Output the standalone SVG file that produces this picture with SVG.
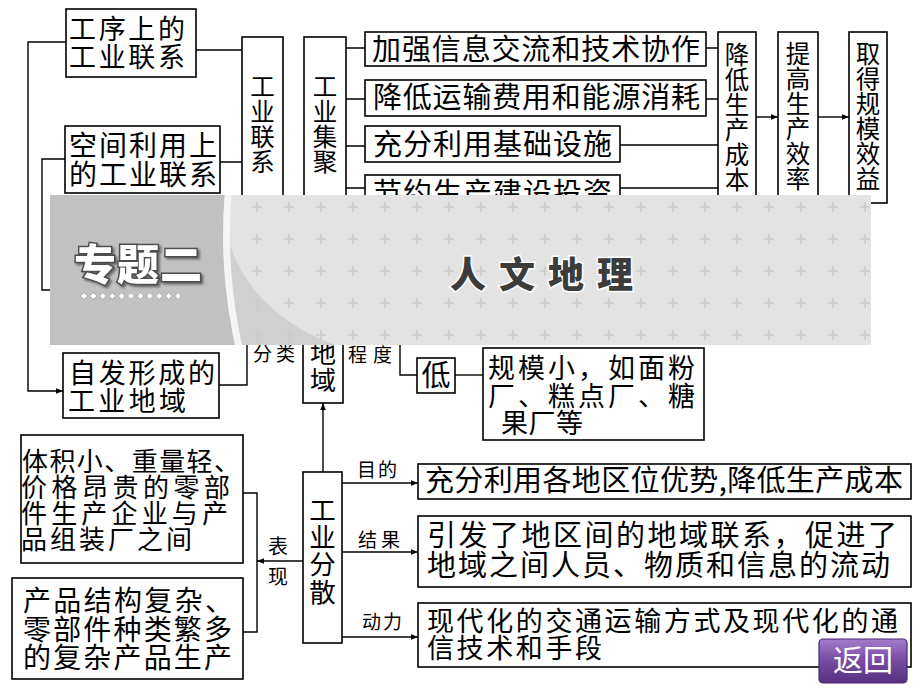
<svg xmlns="http://www.w3.org/2000/svg" width="920" height="690" viewBox="0 0 920 690">
<defs>
<style>
.box{fill:#fff;stroke:#000;stroke-width:1.6}
.ln{fill:none;stroke:#000;stroke-width:1.4}
.t{font-family:"Noto Sans CJK SC","Noto Sans CJK JP",sans-serif;font-size:29px;fill:#000}
.tv{font-size:24.5px;text-anchor:middle}
.lb{font-size:19px}
</style>
<marker id="ah" viewBox="0 0 10 10" refX="10" refY="5" markerWidth="9" markerHeight="7" markerUnits="userSpaceOnUse" orient="auto"><path d="M0,1 L10,5 L0,9 z" fill="#000"/></marker>
<pattern id="plus" x="-15" y="-1" width="32" height="32" patternUnits="userSpaceOnUse"><path d="M11,16 H21 M16,11 V21" stroke="#cbcbcb" stroke-width="1.6"/></pattern>
<clipPath id="bclip"><rect x="50" y="195" width="821" height="150"/></clipPath>
<clipPath id="lclip"><circle cx="737" cy="235" r="507"/></clipPath>
<linearGradient id="btn" x1="0" y1="0" x2="0" y2="1"><stop offset="0" stop-color="#a57ccc"/><stop offset="0.45" stop-color="#7a4ea6"/><stop offset="1" stop-color="#56307f"/></linearGradient>
<filter id="ds" x="-10%" y="-10%" width="130%" height="140%"><feDropShadow dx="2" dy="2" stdDeviation="0.8" flood-color="#555" flood-opacity="0.8"/></filter>
</defs>
<rect width="920" height="690" fill="#fff"/>

<g id="connectors">
<path class="ln" d="M66,42 H28 V391 H63" marker-end="url(#ah)"/>
<path class="ln" d="M65,159 H42 V290 H60"/>
<path class="ln" d="M196,50 H242 M220,162 H242"/>
<path class="ln" d="M346,48 H365 M346,99 H365 M346,146 H365 M346,188 H365"/>
<path class="ln" d="M706,48 H718 M706,99 H718 M620,145 H718 M620,188 H718"/>
<path class="ln" d="M756,117 H778" marker-end="url(#ah)"/>
<path class="ln" d="M818,117 H849" marker-end="url(#ah)"/>
<path class="ln" d="M219,385 H247 V300"/>
<path class="ln" d="M400,300 V375 H417"/>
<path class="ln" d="M455,375 H483"/>
<path class="ln" d="M323,472 V403" marker-end="url(#ah)"/>
<path class="ln" d="M342,483 H418" marker-end="url(#ah)"/>
<path class="ln" d="M342,552 H418" marker-end="url(#ah)"/>
<path class="ln" d="M342,637 H418" marker-end="url(#ah)"/>
<path class="ln" d="M303,561 H257" marker-end="url(#ah)"/>
<path class="ln" d="M243,493 H257 V632 H243"/>
<text class="t lb" x="253" y="361" textLength="42">分类</text>
<text class="t lb" x="348" y="362" textLength="44">程度</text>
<text class="t lb" x="357" y="477" textLength="40">目的</text>
<text class="t lb" x="358" y="547" textLength="42">结果</text>
<text class="t lb" x="362" y="629" textLength="40">动力</text>
<text class="t" style="font-size:20px" x="268" y="554">表</text>
<text class="t" style="font-size:20px" x="268" y="584">现</text>
</g>

<g id="n-gongxu">
<rect class="box" x="66" y="9" width="130" height="68"/>
<text class="t" style="font-size:27px" x="69" y="39" textLength="116">工序上的</text>
<text class="t" style="font-size:27px" x="69" y="67" textLength="116">工业联系</text>
</g>
<g id="n-kongjian">
<rect class="box" x="65" y="126" width="155" height="67"/>
<text class="t" style="font-size:28px" x="69" y="156" textLength="148">空间利用上</text>
<text class="t" style="font-size:28px" x="69" y="185" textLength="148">的工业联系</text>
</g>
<g id="n-gylx">
<rect class="box" x="242" y="37" width="41" height="230"/>
<text class="t tv" x="262.5" y="96">工</text>
<text class="t tv" x="262.5" y="121">业</text>
<text class="t tv" x="262.5" y="146">联</text>
<text class="t tv" x="262.5" y="171">系</text>
</g>
<g id="n-gyjj">
<rect class="box" x="304" y="37" width="42" height="230"/>
<text class="t tv" x="325" y="96">工</text>
<text class="t tv" x="325" y="121">业</text>
<text class="t tv" x="325" y="146">集</text>
<text class="t tv" x="325" y="171">聚</text>
</g>
<g id="n-xinxi">
<rect class="box" x="365" y="32" width="341" height="34"/>
<text class="t" x="372" y="60" textLength="328">加强信息交流和技术协作</text>
</g>
<g id="n-yunshu">
<rect class="box" x="365" y="80" width="341" height="36"/>
<text class="t" x="373" y="108" textLength="327">降低运输费用和能源消耗</text>
</g>
<g id="n-jichu">
<rect class="box" x="365" y="126" width="255" height="36"/>
<text class="t" x="373" y="155" textLength="239">充分利用基础设施</text>
</g>
<g id="n-jieyue">
<rect class="box" x="365" y="175" width="255" height="36"/>
<text class="t" x="373" y="204" textLength="239">节约生产建设投资</text>
</g>
<g id="n-chengben">
<rect class="box" x="718" y="32" width="38" height="200"/>
<text class="t tv" x="737" y="64">降</text>
<text class="t tv" x="737" y="89">低</text>
<text class="t tv" x="737" y="114">生</text>
<text class="t tv" x="737" y="139">产</text>
<text class="t tv" x="737" y="164">成</text>
<text class="t tv" x="737" y="189">本</text>
</g>
<g id="n-xiaolv">
<rect class="box" x="778" y="32" width="40" height="200"/>
<text class="t tv" x="798" y="63">提</text>
<text class="t tv" x="798" y="88">高</text>
<text class="t tv" x="798" y="113">生</text>
<text class="t tv" x="798" y="138">产</text>
<text class="t tv" x="798" y="163">效</text>
<text class="t tv" x="798" y="188">率</text>
</g>
<g id="n-xiaoyi">
<rect class="box" x="849" y="32" width="38" height="171"/>
<text class="t tv" x="868" y="63">取</text>
<text class="t tv" x="868" y="88">得</text>
<text class="t tv" x="868" y="113">规</text>
<text class="t tv" x="868" y="138">模</text>
<text class="t tv" x="868" y="163">效</text>
<text class="t tv" x="868" y="188">益</text>
</g>
<g id="n-zifa">
<rect class="box" x="63" y="353" width="156" height="65"/>
<text class="t" style="font-size:27px" x="69" y="383" textLength="146">自发形成的</text>
<text class="t" style="font-size:27px" x="68" y="411" textLength="118">工业地域</text>
</g>
<g id="n-gydy">
<rect class="box" x="303" y="280" width="40" height="123"/>
<text class="t" style="font-size:26px" x="323" y="309" text-anchor="middle">工</text>
<text class="t" style="font-size:26px" x="323" y="336" text-anchor="middle">业</text>
<text class="t" style="font-size:26px" x="323" y="363" text-anchor="middle">地</text>
<text class="t" style="font-size:26px" x="323" y="390" text-anchor="middle">域</text>
</g>
<g id="n-di">
<rect class="box" x="417" y="358" width="38" height="35"/>
<text class="t" x="436" y="386" text-anchor="middle">低</text>
</g>
<g id="n-guimo">
<rect class="box" x="483" y="348" width="221" height="92"/>
<text class="t" style="font-size:27px" x="488" y="378" textLength="207">规模小，如面粉</text>
<text class="t" style="font-size:27px" x="488" y="406" textLength="207">厂、糕点厂、糖</text>
<text class="t" style="font-size:27px" x="501" y="433" textLength="82">果厂等</text>
</g>
<g id="n-gyfs">
<rect class="box" x="303" y="472" width="39" height="171"/>
<text class="t" style="font-size:26.5px" x="322.5" y="520" text-anchor="middle">工</text>
<text class="t" style="font-size:26.5px" x="322.5" y="547" text-anchor="middle">业</text>
<text class="t" style="font-size:26.5px" x="322.5" y="574" text-anchor="middle">分</text>
<text class="t" style="font-size:26.5px" x="322.5" y="602" text-anchor="middle">散</text>
</g>
<g id="n-tiji">
<rect class="box" x="21" y="435" width="222" height="128"/>
<text class="t" style="font-size:26px" x="22" y="471" textLength="218">体积小、重量轻、</text>
<text class="t" style="font-size:26px" x="21" y="497" textLength="209">价格昂贵的零部</text>
<text class="t" style="font-size:26px" x="21" y="523" textLength="207">件生产企业与产</text>
<text class="t" style="font-size:26px" x="21" y="549" textLength="171">品组装厂之间</text>
</g>
<g id="n-chanpin">
<rect class="box" x="12" y="578" width="231" height="101"/>
<text class="t" style="font-size:28px" x="23" y="611" textLength="210">产品结构复杂、</text>
<text class="t" style="font-size:28px" x="23" y="640" textLength="209">零部件种类繁多</text>
<text class="t" style="font-size:28px" x="23" y="668" textLength="209">的复杂产品生产</text>
</g>
<g id="n-mudi">
<rect class="box" x="418" y="464" width="493" height="35"/>
<text class="t" x="425" y="491" textLength="478">充分利用各地区位优势,降低生产成本</text>
</g>
<g id="n-jieguo">
<rect class="box" x="418" y="516" width="493" height="71"/>
<text class="t" x="427" y="546" textLength="470">引发了地区间的地域联系，促进了</text>
<text class="t" x="427" y="576" textLength="463">地域之间人员、物质和信息的流动</text>
</g>
<g id="n-dongli">
<rect class="box" x="418" y="603" width="493" height="64"/>
<text class="t" style="font-size:27px" x="427" y="631" textLength="471">现代化的交通运输方式及现代化的通</text>
<text class="t" style="font-size:27px" x="427" y="658" textLength="175">信技术和手段</text>
</g>

<g id="banner">
<g clip-path="url(#bclip)">
<rect x="50" y="195" width="821" height="150" fill="#c1c1c1"/>
<circle cx="735" cy="235" r="512" fill="#f5f5f5"/>
<g clip-path="url(#lclip)">
<rect x="50" y="195" width="821" height="150" fill="#e4e3e4"/>
<path d="M224,225 Q245,318 350,350 L200,350 Z" fill="#d0d0d0"/>
<rect x="50" y="195" width="821" height="150" fill="url(#plus)"/>
</g>
</g>
<text x="74" y="280" textLength="128" filter="url(#ds)" style="font-family:'Noto Sans CJK SC',sans-serif;font-size:42px;font-weight:900;fill:#fff;stroke:#4e4e4e;stroke-width:3;paint-order:stroke">专题二</text>
<g fill="#fff" stroke="#8a8a8a" stroke-width="0.6">
<path d="M84,292.5 L87.5,296 L84,299.5 L80.5,296 Z"/>
<path d="M93.4,292.5 L96.9,296 L93.4,299.5 L89.9,296 Z"/>
<path d="M102.8,292.5 L106.3,296 L102.8,299.5 L99.3,296 Z"/>
<path d="M112.2,292.5 L115.7,296 L112.2,299.5 L108.7,296 Z"/>
<path d="M121.6,292.5 L125.1,296 L121.6,299.5 L118.1,296 Z"/>
<path d="M131,292.5 L134.5,296 L131,299.5 L127.5,296 Z"/>
<path d="M140.4,292.5 L143.9,296 L140.4,299.5 L136.9,296 Z"/>
<path d="M149.8,292.5 L153.3,296 L149.8,299.5 L146.3,296 Z"/>
<path d="M159.2,292.5 L162.7,296 L159.2,299.5 L155.7,296 Z"/>
<path d="M168.6,292.5 L172.1,296 L168.6,299.5 L165.1,296 Z"/>
<path d="M178,292.5 L181.5,296 L178,299.5 L174.5,296 Z"/>
</g>
<g style="font-family:'Noto Sans CJK SC',sans-serif;font-size:36px;font-weight:900;fill:#3c3c3c;stroke:#fff;stroke-width:3;paint-order:stroke">
<text x="450" y="288">人</text>
<text x="499" y="288">文</text>
<text x="548" y="288">地</text>
<text x="597" y="288">理</text>
</g>
</g>

<g id="btn-fanhui">
<rect x="819" y="639" width="88" height="44" rx="4" fill="url(#btn)" stroke="#4a2a6e" stroke-width="1.2"/>
<text x="863" y="671" text-anchor="middle" style="font-family:'Noto Sans CJK SC',sans-serif;font-size:30px;fill:#fff">返回</text>
</g>
</svg>
